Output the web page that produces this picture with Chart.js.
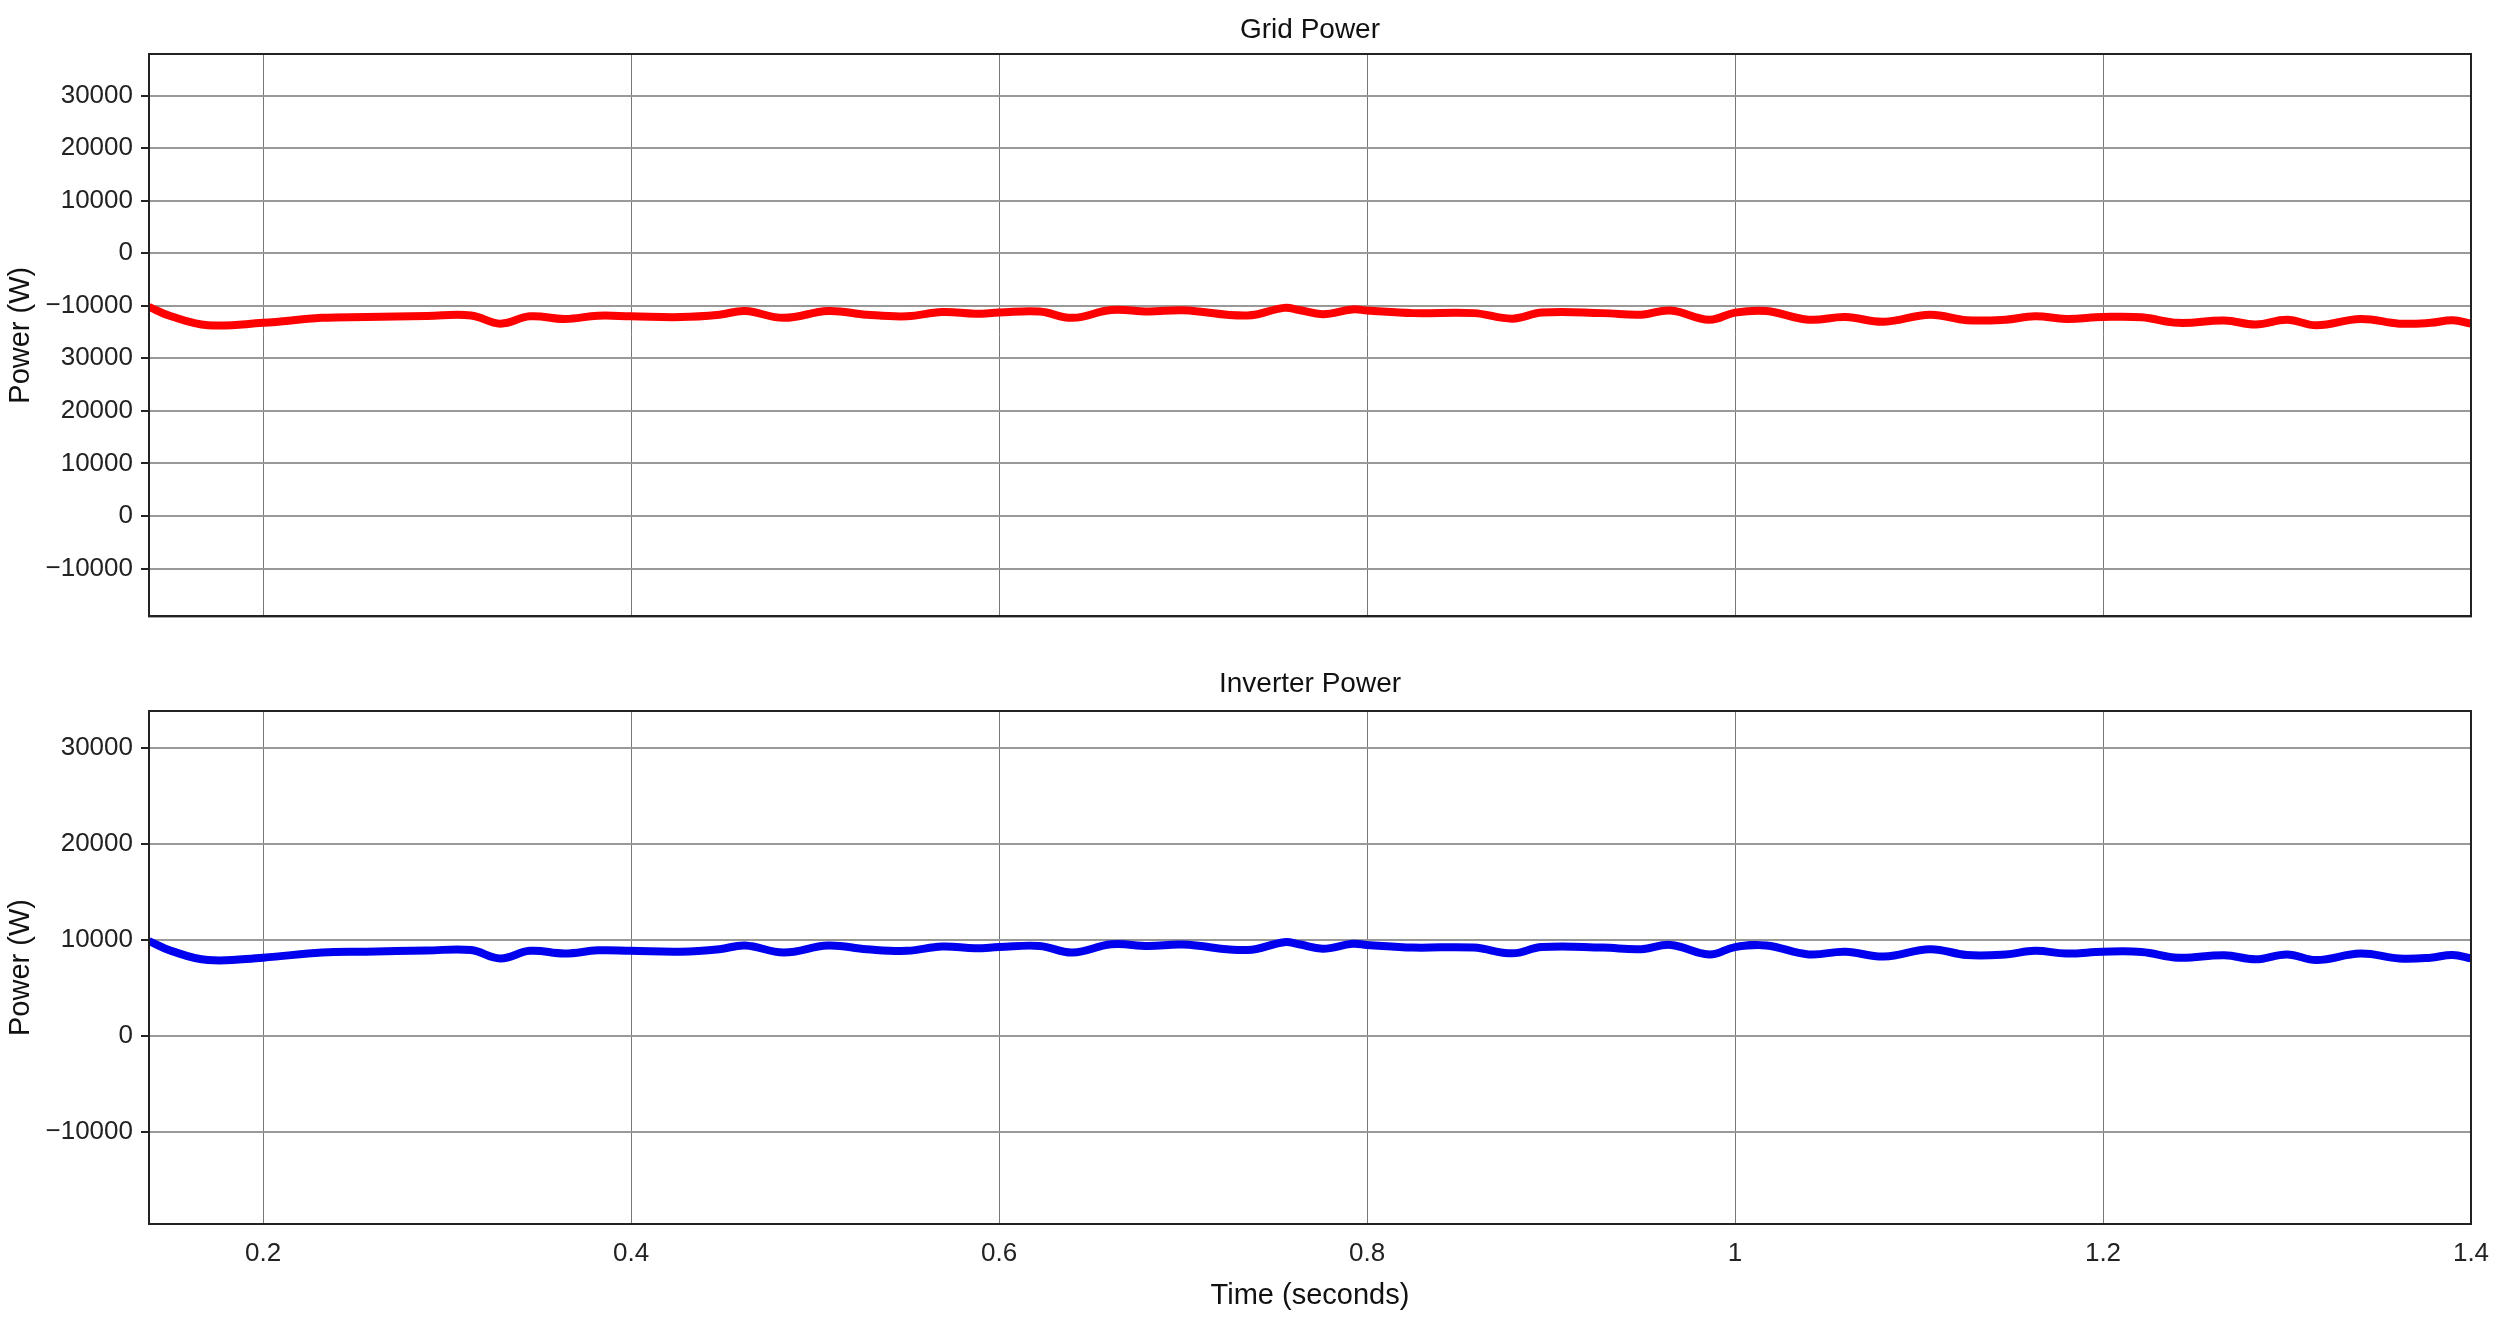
<!DOCTYPE html>
<html><head><meta charset="utf-8">
<script src="https://cdn.jsdelivr.net/npm/chart.js@4"></script>
<style>
html,body{margin:0;padding:0;background:#fff;width:2510px;height:1317px;overflow:hidden}
#w1{position:absolute;left:0;top:0;width:2510px;height:640px}
#w2{position:absolute;left:0;top:650px;width:2510px;height:667px}
</style></head><body>
<div id="w1"><canvas id="c1"></canvas></div>
<div id="w2"><canvas id="c2"></canvas></div>
<script>
const time = [0.138,0.15,0.17,0.2,0.232,0.256,0.289,0.313,0.329,0.345,0.364,0.382,0.4,0.427,0.448,0.462,0.483,0.507,0.528,0.55,0.569,0.587,0.6,0.622,0.64,0.661,0.681,0.7,0.735,0.755,0.763,0.776,0.792,0.8,0.825,0.858,0.879,0.895,0.928,0.949,0.965,0.986,1.0,1.017,1.04,1.06,1.081,1.106,1.126,1.147,1.163,1.18,1.2,1.221,1.241,1.266,1.283,1.3,1.316,1.34,1.361,1.378,1.39,1.4];
const gridPower = [-10200,-12000,-13700,-13250,-12300,-12150,-11950,-11850,-13400,-12000,-12500,-11900,-12000,-12150,-11700,-11000,-12300,-11000,-11700,-12000,-11200,-11500,-11300,-11100,-12300,-10800,-11100,-10850,-11850,-10400,-10800,-11600,-10700,-10900,-11400,-11400,-12450,-11300,-11400,-11700,-10900,-12650,-11300,-11000,-12650,-12150,-13050,-11700,-12750,-12650,-12000,-12500,-12150,-12200,-13250,-12800,-13550,-12650,-13700,-12500,-13400,-13250,-12750,-13400];
const inverterPower = [9890,8870,7910,8160,8700,8780,8900,8950,8080,8870,8590,8920,8870,8780,9040,9430,8700,9430,9040,8870,9320,9150,9260,9380,8700,9550,9380,9520,8950,9770,9550,9090,9600,9490,9210,9210,8610,9260,9210,9040,9490,8500,9260,9430,8500,8780,8270,9040,8440,8500,8870,8590,8780,8750,8160,8420,7990,8500,7910,8590,8080,8160,8440,8080];
const xTicks = [0.2,0.4,0.6,0.8,1.0,1.2,1.4];
const xTickLabels = ['0.2','0.4','0.6','0.8','1','1.2','1.4'];
const gridYTicks = [30000,20000,10000,0,-10000,-20000,-30000,-40000,-50000,-60000];
const gridYTickLabels = ['30000','20000','10000','0','\u221210000','30000','20000','10000','0','\u221210000'];
const invYTicks = [30000,20000,10000,0,-10000];
const invYTickLabels = ['30000','20000','10000','0','\u221210000'];

const narrow = "'Liberation Sans Narrow','Liberation Sans',Arial,sans-serif";
const sans = "'Liberation Sans',Arial,sans-serif";
Chart.defaults.color = '#222';
Chart.defaults.animation = false;

function makeChart(id, data, color, title, yTicks, yLabels, yMin, yMax, showX, topPad, titleY, xH){
  return new Chart(document.getElementById(id), {
    type:'line',
    data:{datasets:[{data:time.map((t,i)=>({x:t,y:data[i]})),borderColor:color,borderWidth:8,pointRadius:0,tension:0.4,fill:false}]},
    options:{
      responsive:true, maintainAspectRatio:false,
      layout:{padding:{left:0,right:39,top:topPad,bottom:0}},
      plugins:{legend:{display:false},tooltip:{enabled:false},title:{display:false}},
      scales:{
        x:{type:'linear',min:0.138,max:1.4,
          afterBuildTicks:s=>{s.ticks=xTicks.map(v=>({value:v}));},
          afterFit:s=>{s.height=xH;},
          ticks:{display:showX,padding:14,font:{family:narrow,size:26},color:'#222',
            callback:(v)=>{const i=xTicks.findIndex(t=>Math.abs(t-v)<1e-6);return i>=0?xTickLabels[i]:'';},maxRotation:0,autoSkip:false},
          grid:{color:'#777',lineWidth:1,drawTicks:false},
          border:{color:'#222',width:2},
          title:{display:showX,text:'Time (seconds)',font:{family:narrow,size:29},color:'#111',padding:{top:4}}
        },
        y:{type:'linear',min:yMin,max:yMax,
          afterBuildTicks:s=>{s.ticks=yTicks.map(v=>({value:v}));},
          afterFit:s=>{s.width=149;},
          ticks:{padding:8,font:{family:narrow,size:26},color:'#222',
            callback:(v)=>{const i=yTicks.indexOf(v);return i>=0?yLabels[i]:'';},autoSkip:false},
          grid:{color:'#999',lineWidth:2,drawTicks:true,tickLength:8,tickColor:'#222'},
          border:{color:'#222',width:2},
          title:{display:true,text:'Power (W)',font:{family:sans,size:29},color:'#111',padding:{bottom:14}}
        }
      }
    },
    plugins:[{id:'frame',afterDraw(c){const a=c.chartArea,x=c.ctx;x.save();x.strokeStyle='#222';x.lineWidth=2;x.strokeRect(a.left,a.top,a.right-a.left,a.bottom-a.top);
      x.fillStyle='#111';x.font='28px '+narrow;x.textAlign='center';x.textBaseline='middle';x.fillText(title,(a.left+a.right)/2,titleY);x.restore();}}]
  });
}
makeChart('c1', gridPower, '#ff0000', 'Grid Power', gridYTicks, gridYTickLabels, -69100, 37900, false, 54, 30, 10);
makeChart('c2', inverterPower, '#0000ee', 'Inverter Power', invYTicks, invYTickLabels, -19580, 33850, true, 61, 34, 93);
</script></body></html>
